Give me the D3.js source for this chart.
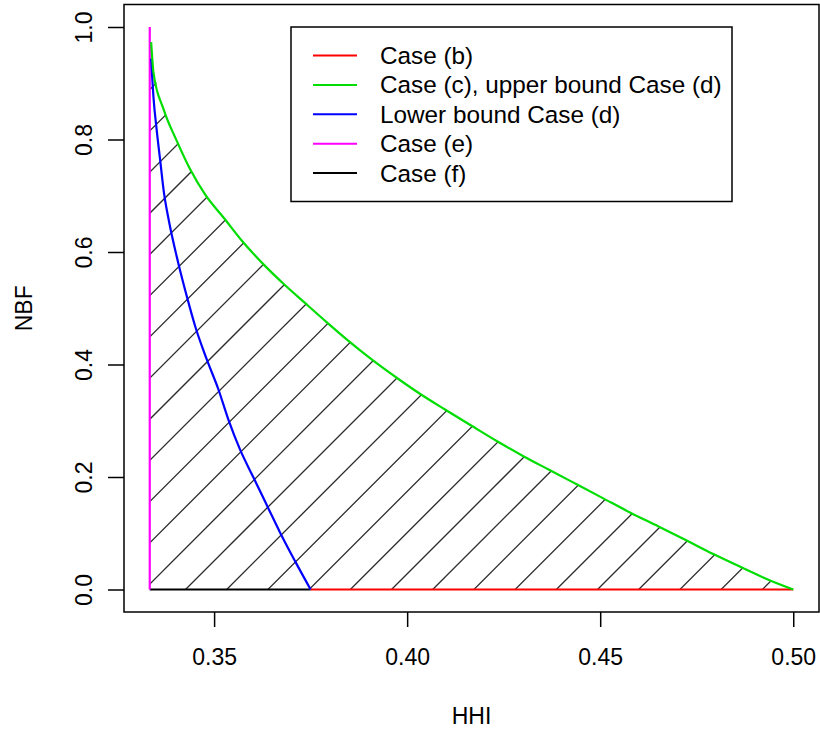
<!DOCTYPE html>
<html>
<head>
<meta charset="utf-8">
<script src="https://cdn.jsdelivr.net/npm/d3@7"></script>
<style>
  body { margin: 0; background: #fff; }
  svg { display: block; font-family: "Liberation Sans", Arial, sans-serif; }
</style>
</head>
<body>
<div class="chart-container"></div>
<script>
// upper bound (case c / upper bound case d)
const upperHHI = [0.3337, 0.3343, 0.3369, 0.3403, 0.3438, 0.3477, 0.3526, 0.3572, 0.3628, 0.3679,
  0.3736, 0.3792, 0.3848, 0.3908, 0.3982, 0.4033, 0.4098, 0.4167, 0.4232, 0.4301,
  0.4370, 0.4439, 0.4508, 0.4577, 0.4651, 0.4724, 0.4793, 0.4867, 0.4940, 0.5000];
const upperNBF = [0.973, 0.919, 0.854, 0.798, 0.747, 0.702, 0.660, 0.620, 0.578, 0.544,
  0.509, 0.475, 0.442, 0.409, 0.372, 0.348, 0.320, 0.291, 0.264, 0.237,
  0.212, 0.187, 0.162, 0.137, 0.112, 0.087, 0.063, 0.039, 0.016, 0.000];

// lower bound case d
const lowerHHI = [0.3337, 0.3343, 0.3351, 0.3360, 0.3370, 0.3383, 0.3407, 0.3429, 0.3451, 0.3481,
  0.3511, 0.3537, 0.3567, 0.3602, 0.3640, 0.3671, 0.3710, 0.3750];
const lowerNBF = [0.944, 0.875, 0.819, 0.765, 0.706, 0.655, 0.581, 0.522, 0.468, 0.409,
  0.356, 0.302, 0.249, 0.199, 0.145, 0.101, 0.050, 0.000];

const caseB = [[0.375, 0], [0.5, 0]];
const caseE = [[1 / 3, 0], [1 / 3, 1]];
const caseF = [[1 / 3, 0], [0.375, 0]];

const xTicks = [0.35, 0.40, 0.45, 0.50];
const yTicks = [0, 0.2, 0.4, 0.6, 0.8, 1.0];

const legendLabels = ["Case (b)", "Case (c), upper bound Case (d)", "Lower bound Case (d)", "Case (e)", "Case (f)"];
const legendColors = ["#ff0000", "#00dd00", "#0000ff", "#ff00ff", "#000000"];

const width = 820, height = 730;
const margin = {left: 124, right: 1, top: 4.5, bottom: 118};

const svg = d3.select(".chart-container")
  .append("svg")
  .attr("width", width)
  .attr("height", height);

const x = d3.scaleLinear()
  .domain([1 / 3 - 0.00667, 0.5 + 0.00667])
  .range([margin.left, width - margin.right]);
const y = d3.scaleLinear()
  .domain([-0.04, 1.04])
  .range([height - margin.bottom, margin.top]);

const upper = upperHHI.map((h, i) => [h, upperNBF[i]]);
const lower = lowerHHI.map((h, i) => [h, lowerNBF[i]]);

const line = d3.line().x(d => x(d[0])).y(d => y(d[1]));
const smooth = d3.line().x(d => x(d[0])).y(d => y(d[1])).curve(d3.curveMonotoneX);

// hatched area between case (e) and the upper bound
const region = [[1 / 3, 0], [1 / 3, upper[0][1]]].concat(upper);
svg.append("clipPath")
  .attr("id", "hatchClip")
  .append("path")
  .attr("d", line(region) + "Z");

const hatch = svg.append("g").attr("clip-path", "url(#hatchClip)");
const step = 41.2, c0 = 775;
d3.range(-20, 30).forEach(k => {
  const c = c0 + k * step;
  hatch.append("line")
    .attr("x1", margin.left).attr("y1", c - margin.left)
    .attr("x2", width).attr("y2", c - width)
    .attr("stroke", "#2a2a2a")
    .attr("stroke-width", 1.3);
});

// curves
const curves = [
  {d: caseF, color: legendColors[4], gen: line},
  {d: caseB, color: legendColors[0], gen: line},
  {d: caseE, color: legendColors[3], gen: line},
  {d: lower, color: legendColors[2], gen: smooth},
  {d: upper, color: legendColors[1], gen: smooth}
];
svg.append("g")
  .selectAll("path")
  .data(curves)
  .enter().append("path")
  .attr("d", d => d.gen(d.d))
  .attr("fill", "none")
  .attr("stroke", d => d.color)
  .attr("stroke-width", 2.2);

// box
svg.append("rect")
  .attr("x", margin.left)
  .attr("y", margin.top)
  .attr("width", width - margin.right - margin.left)
  .attr("height", height - margin.bottom - margin.top)
  .attr("fill", "none")
  .attr("stroke", "#000")
  .attr("stroke-width", 1.5);

// axes
const xAxis = svg.append("g")
  .attr("transform", `translate(0,${height - margin.bottom})`)
  .call(d3.axisBottom(x).tickValues(xTicks).tickFormat(d3.format(".2f")).tickSize(15).tickPadding(22));
xAxis.select(".domain").remove();
xAxis.selectAll("line").attr("stroke-width", 1.5);
xAxis.selectAll("text").attr("font-size", 23).attr("fill", "#000").attr("font-family", "Liberation Sans, Arial, sans-serif");

const yAxis = svg.append("g")
  .attr("transform", `translate(${margin.left},0)`)
  .call(d3.axisLeft(y).tickValues(yTicks).tickFormat(d3.format(".1f")).tickSize(16));
yAxis.select(".domain").remove();
yAxis.selectAll("line").attr("stroke-width", 1.5);
yAxis.selectAll("text")
  .attr("font-size", 23)
  .attr("fill", "#000")
  .attr("font-family", "Liberation Sans, Arial, sans-serif")
  .attr("text-anchor", "middle")
  .attr("x", 0).attr("dy", 0)
  .attr("transform", "translate(-40,0) rotate(-90)")
  .attr("dominant-baseline", "central");

svg.append("text")
  .attr("x", (margin.left + width - margin.right) / 2)
  .attr("y", 724)
  .attr("text-anchor", "middle")
  .attr("font-size", 23)
  .text("HHI");

svg.append("text")
  .attr("transform", `translate(32,${(margin.top + height - margin.bottom) / 2}) rotate(-90)`)
  .attr("text-anchor", "middle")
  .attr("font-size", 23)
  .text("NBF");

// legend
const legend = svg.append("g").attr("transform", "translate(291,27)");
legend.append("rect")
  .attr("width", 441).attr("height", 174.5)
  .attr("fill", "#fff")
  .attr("stroke", "#000")
  .attr("stroke-width", 1.5);
const rows = legend.selectAll("g.row")
  .data(legendLabels)
  .enter().append("g")
  .attr("class", "row")
  .attr("transform", (d, i) => `translate(0,${28.5 + i * 29.4})`);
rows.append("line")
  .attr("x1", 22).attr("x2", 66)
  .attr("stroke", (d, i) => legendColors[i])
  .attr("stroke-width", 2);
rows.append("text")
  .attr("x", 89)
  .attr("dy", "0.35em")
  .attr("font-size", 24.3)
  .text(d => d);
</script>
</body>
</html>
